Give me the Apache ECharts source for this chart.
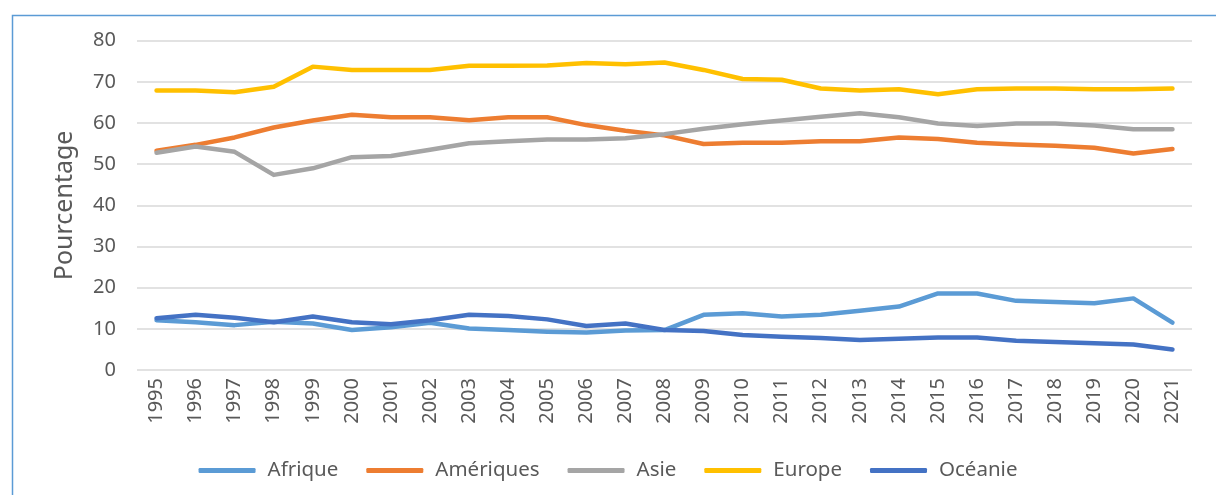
<!DOCTYPE html>
<html>
<head>
<meta charset="utf-8">
<script src="https://cdn.jsdelivr.net/npm/echarts@6/dist/echarts.min.js"></script>
<style>
html,body{margin:0;padding:0;background:#fff;}
#chart{width:1216px;height:495px;}
</style>
</head>
<body>
<div id="chart"></div>
<script>
var years = ['1995','1996','1997','1998','1999','2000','2001','2002','2003','2004','2005','2006','2007','2008','2009','2010','2011','2012','2013','2014','2015','2016','2017','2018','2019','2020','2021'];
var yTicks = [0, 10, 20, 30, 40, 50, 60, 70, 80];
var afrique = [12.1,11.6,10.9,11.7,11.3,9.7,10.4,11.5,10.1,9.7,9.3,9.1,9.6,9.7,13.4,13.8,13.0,13.4,14.4,15.4,18.6,18.6,16.8,16.5,16.2,17.4,11.5];
var ameriques = [53.3,54.7,56.5,58.9,60.6,62.0,61.4,61.4,60.7,61.4,61.4,59.5,58.1,57.0,54.9,55.2,55.2,55.6,55.6,56.5,56.1,55.2,54.8,54.5,54.0,52.6,53.7];
var asie = [52.8,54.3,53.0,47.4,49.0,51.7,52.0,53.5,55.1,55.6,56.0,56.0,56.3,57.3,58.6,59.7,60.6,61.5,62.4,61.4,59.9,59.3,59.9,59.9,59.4,58.5,58.5];
var europe = [67.9,67.9,67.5,68.8,73.7,72.9,72.9,72.9,73.9,73.9,74.0,74.6,74.3,74.7,72.9,70.7,70.5,68.4,67.9,68.2,67.0,68.2,68.4,68.4,68.2,68.2,68.4];
var oceanie = [12.6,13.4,12.7,11.6,13.0,11.6,11.1,12.1,13.4,13.1,12.3,10.7,11.3,9.7,9.5,8.5,8.1,7.8,7.3,7.6,7.9,7.9,7.1,6.8,6.5,6.2,5.0];
var names = ['Afrique', 'Amériques', 'Asie', 'Europe', 'Océanie'];
var colors = ['#5B9BD5', '#ED7D31', '#A5A5A5', '#FFC000', '#4472C4'];
var seriesData = [afrique, ameriques, asie, europe, oceanie];

var FONT = "'Noto Sans', 'Open Sans', sans-serif";
var chart = echarts.init(document.getElementById('chart'), null, {renderer: 'canvas'});
var series = seriesData.map(function (d, i) {
  return {
    name: names[i],
    type: 'line',
    data: d,
    symbol: 'none',
    smooth: false,
    z: 2 + i,
    lineStyle: {color: colors[i], width: 4.5, cap: 'round', join: 'round'},
    itemStyle: {color: colors[i]}
  };
});
chart.setOption({
  animation: false,
  backgroundColor: '#ffffff',
  color: colors,
  graphic: [{
    type: 'rect',
    left: 10, top: 13,
    shape: {width: 1300, height: 600},
    style: {fill: 'none', stroke: '#5B9BD5', lineWidth: 1.5},
    silent: true
  }],
  grid: {left: 137, right: 24, top: 40.7, bottom: 125, containLabel: false},
  legend: {
    data: names,
    left: 'center',
    top: 455,
    icon: 'roundRect',
    itemWidth: 57,
    itemHeight: 5,
    itemGap: 28,
    textStyle: {color: '#595959', fontSize: 20.5, fontFamily: FONT, padding: [0, 0, 0, 7]}
  },
  xAxis: {
    type: 'category',
    data: years,
    boundaryGap: true,
    axisLine: {show: false},
    axisTick: {show: false},
    axisLabel: {rotate: 90, color: '#595959', fontSize: 20, fontFamily: FONT, margin: 8, interval: 0}
  },
  yAxis: {
    type: 'value',
    min: yTicks[0],
    max: yTicks[yTicks.length - 1],
    interval: 10,
    name: 'Pourcentage',
    nameLocation: 'middle',
    nameGap: 60,
    nameTextStyle: {color: '#595959', fontSize: 25, fontFamily: FONT},
    axisLine: {show: false},
    axisTick: {show: false},
    axisLabel: {color: '#595959', fontSize: 20, fontFamily: FONT, margin: 21},
    splitLine: {lineStyle: {color: '#d9d9d9', width: 1.5}}
  },
  series: series
});
</script>
</body>
</html>
